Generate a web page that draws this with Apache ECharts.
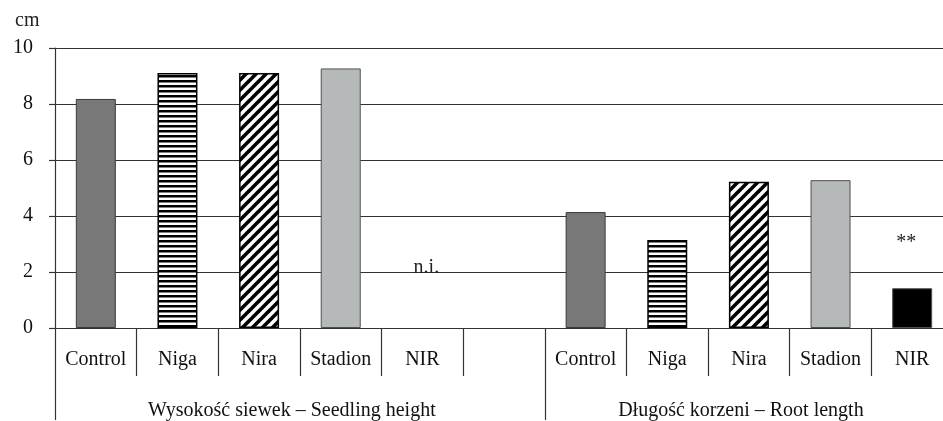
<!DOCTYPE html>
<html>
<head>
<meta charset="utf-8">
<script src="https://cdn.jsdelivr.net/npm/echarts@6/dist/echarts.min.js"></script>
<style>
html,body{margin:0;padding:0;background:#fff;overflow:hidden;width:943px;height:421px;}
#chart{width:953px;height:421px;}
</style>
</head>
<body>
<div id="chart"></div>
<script>
// ---- data ----
const categories = ['Control', 'Niga', 'Nira', 'Stadion', 'NIR', '', 'Control', 'Niga', 'Nira', 'Stadion', 'NIR'];
const values = [8.18, 9.11, 9.11, 9.27, null, null, 4.14, 3.14, 5.22, 5.28, 1.42];
const variety = ['Control', 'Niga', 'Nira', 'Stadion', 'NIR', '', 'Control', 'Niga', 'Nira', 'Stadion', 'NIR'];
const groupNames = ['Wysokość siewek – Seedling height', 'Długość korzeni – Root length'];
const groupStart = [0, 6];
const groupEnd = [6, 11];
const yTicks = [0, 2, 4, 6, 8, 10];
const notes = [{ idx: 4, y: 2.15, text: 'n.i.' }, { idx: 10, y: 3.05, text: '**' }];

// ---- patterns ----
function hStripes() {
  const c = document.createElement('canvas');
  c.width = 5; c.height = 5;
  const g = c.getContext('2d');
  g.fillStyle = '#fff'; g.fillRect(0, 0, 5, 5);
  g.fillStyle = '#000'; g.fillRect(0, 0, 5, 2.5);
  return c;
}
function dStripes() {
  const s = 10;
  const c = document.createElement('canvas');
  c.width = s; c.height = s;
  const g = c.getContext('2d');
  g.fillStyle = '#fff'; g.fillRect(0, 0, s, s);
  g.strokeStyle = '#000'; g.lineWidth = 3.6;
  for (let k = -1; k <= 1; k++) {
    g.beginPath();
    g.moveTo(-2 + k * s, s + 2);
    g.lineTo(s + 2 + k * s, -2);
    g.stroke();
  }
  return c;
}
const HS = hStripes(), DS = dStripes();
function styleFor(name) {
  switch (name) {
    case 'Control': return { color: '#787878', borderColor: '#3a3a3a', borderWidth: 1 };
    case 'Niga': return { color: { image: HS, repeat: 'repeat' }, borderColor: '#000', borderWidth: 1.5 };
    case 'Nira': return { color: { image: DS, repeat: 'repeat' }, borderColor: '#000', borderWidth: 1.5 };
    case 'Stadion': return { color: '#b6b9ba', borderColor: '#505050', borderWidth: 1 };
    case 'NIR': return { color: '#000', borderColor: '#505050', borderWidth: 1 };
    default: return {};
  }
}

const font = 'Liberation Serif';
const axisColor = '#333';
const groupCenters = groupStart.map((s, i) => (s + groupEnd[i]) / 2);
const groupTickVals = Array.from(new Set(groupStart.concat(groupEnd)));

const chart = echarts.init(document.getElementById('chart'), null, { renderer: 'canvas' });
chart.setOption({
  animation: false,
  backgroundColor: '#fff',
  textStyle: { fontFamily: font },
  grid: { left: 55, top: 48, right: 0, height: 281, containLabel: false },
  title: {
    text: 'cm', left: 10, top: 6,
    textStyle: { fontFamily: font, fontSize: 20, fontWeight: 'normal', color: '#222' }
  },
  xAxis: [{
    type: 'category',
    data: categories,
    position: 'bottom',
    axisLine: { show: true, lineStyle: { color: axisColor, width: 1.2 } },
    axisTick: { show: true, interval: 0, length: 48, lineStyle: { color: axisColor, width: 1.2 } },
    axisLabel: { interval: 0, margin: 22, color: '#111', fontFamily: font, fontSize: 20 },
    splitLine: { show: false }
  }, {
    type: 'value',
    min: 0, max: categories.length,
    position: 'bottom',
    offset: 48,
    axisLine: { show: false },
    splitLine: { show: false },
    axisTick: { show: true, length: 44, customValues: groupTickVals, lineStyle: { color: axisColor, width: 1.2 } },
    axisLabel: {
      show: true, customValues: groupCenters, margin: 25,
      padding: [0, 16, 0, 0],
      color: '#111', fontFamily: font, fontSize: 20,
      formatter: v => { const i = groupCenters.indexOf(v); return i >= 0 ? groupNames[i] : ''; }
    }
  }],
  yAxis: {
    type: 'value',
    min: yTicks[0], max: yTicks[yTicks.length - 1], interval: 2,
    axisLine: { show: true, lineStyle: { color: axisColor, width: 1.2 } },
    axisTick: { show: true, length: 6, lineStyle: { color: axisColor, width: 1.2 } },
    axisLabel: { margin: 22, color: '#111', fontFamily: font, fontSize: 20 },
    splitLine: { show: true, lineStyle: { color: '#333', width: 1.2 } }
  },
  series: [{
    type: 'bar',
    xAxisIndex: 0,
    barWidth: 40,
    data: values.map((v, i) => ({ value: v, itemStyle: styleFor(variety[i]) })),
    markPoint: {
      symbol: 'circle', symbolSize: 0,
      label: { show: true, position: 'inside', color: '#222', fontFamily: font, fontSize: 20,
               formatter: p => p.name },
      data: notes.map(n => ({ name: n.text, coord: [n.idx, n.y], label: n.text === '**' ? { offset: [-6, 0] } : { offset: [4, 0] } }))
    }
  }]
});
</script>
</body>
</html>
